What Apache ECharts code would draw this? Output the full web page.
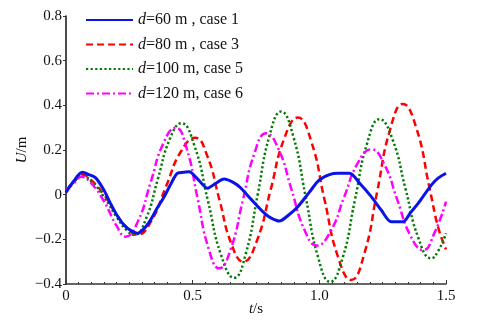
<!DOCTYPE html>
<html><head><meta charset="utf-8">
<script src="https://cdn.jsdelivr.net/npm/echarts@6/dist/echarts.min.js"></script>
<style>html,body{margin:0;padding:0;background:#fff}#c{width:481px;height:325px}</style>
</head><body><div id="c"></div>
<script>
const names = ['d=60 m , case 1','d=80 m , case 3','d=100 m, case 5','d=120 m, case 6'];
const xTicks = ['0','0.5','1.0','1.5'];
const yTicks = ['−0.4','−0.2','0','0.2','0.4','0.6','0.8'];

const tBlue = [0,0.03,0.064,0.09,0.117,0.15,0.176,0.2,0.229,0.255,0.282,0.31,0.334,0.36,0.387,0.415,0.44,0.465,0.486,0.52,0.559,0.59,0.624,0.66,0.69,0.73,0.783,0.81,0.842,0.88,0.915,0.96,1.0,1.04,1.073,1.119,1.16,1.205,1.245,1.284,1.33,1.36,1.39,1.442,1.47,1.5];
const uBlue = [0.01,0.06,0.10,0.09,0.075,0.02,-0.04,-0.09,-0.136,-0.16,-0.173,-0.15,-0.113,-0.06,-0.01,0.05,0.096,0.10,0.103,0.07,0.029,0.05,0.07,0.055,0.03,-0.02,-0.083,-0.105,-0.118,-0.09,-0.054,0.01,0.066,0.09,0.096,0.096,0.05,-0.009,-0.07,-0.121,-0.121,-0.08,-0.039,0.043,0.075,0.096];

const tRed = [0,0.03,0.065,0.1,0.15,0.2,0.25,0.28,0.3375,0.395,0.4525,0.51,0.5575,0.605,0.6525,0.70,0.754,0.8075,0.861,0.915,0.968,1.02,1.073,1.126,1.177,1.228,1.279,1.33,1.3825,1.435,1.47,1.5];
const uRed = [0.02,0.055,0.09,0.065,0.0,-0.09,-0.16,-0.18,-0.116,0.0375,0.191,0.255,0.174,-0.02,-0.219,-0.30,-0.205,0.02,0.25,0.345,0.239,-0.02,-0.276,-0.382,-0.267,0.012,0.29,0.406,0.30,0.03,-0.15,-0.245];

const tGreen = [0,0.03,0.06,0.1,0.15,0.2,0.24,0.27,0.316,0.3625,0.409,0.455,0.507,0.56,0.612,0.664,0.71,0.7565,0.803,0.849,0.8975,0.946,0.9945,1.043,1.092,1.14,1.189,1.238,1.289,1.34,1.391,1.442,1.47,1.5];
const uGreen = [0.02,0.055,0.085,0.06,-0.01,-0.1,-0.16,-0.18,-0.107,0.07,0.247,0.32,0.219,-0.026,-0.27,-0.372,-0.263,0,0.263,0.372,0.26,-0.009,-0.278,-0.39,-0.283,-0.026,0.231,0.338,0.247,0.027,-0.194,-0.285,-0.25,-0.173];

const tMag = [0,0.03,0.06,0.1,0.15,0.2,0.235,0.2845,0.334,0.3835,0.433,0.476,0.519,0.562,0.605,0.651,0.6975,0.744,0.79,0.84,0.89,0.94,0.99,1.044,1.0975,1.151,1.205,1.256,1.3075,1.359,1.41,1.455,1.5];
const uMag = [0.02,0.05,0.08,0.05,-0.03,-0.14,-0.188,-0.118,0.055,0.228,0.30,0.208,-0.015,-0.238,-0.33,-0.241,-0.0275,0.186,0.275,0.201,0.0235,-0.154,-0.228,-0.165,-0.0125,0.14,0.203,0.137,-0.0225,-0.182,-0.248,-0.17,-0.031];

const pair = (t,u) => t.map((v,i)=>[v,u[i]]);
const F = 'Liberation Serif';
const chart = echarts.init(document.getElementById('c'), null, {renderer:'canvas'});
function mk(name, t, u, color, type, smooth, w){
  return {name, type:'line', data:pair(t,u), symbol:'none', showSymbol:false, smooth:smooth,
    lineStyle:{color, width:w, type, cap:'butt'}, itemStyle:{color}, animation:false};
}
chart.setOption({
  animation:false,
  grid:{left:66, right:35, top:16, bottom:41, containLabel:false, outerBoundsMode:'none'},
  legend:{
    orient:'vertical', left:80, top:7, itemWidth:47, itemHeight:14, itemGap:8.5,
    data:names,
    itemStyle:{opacity:0},
    formatter: n => '{i|d}' + n.slice(1),
    textStyle:{fontFamily:F, fontSize:16, color:'#111',
      rich:{i:{fontFamily:F, fontStyle:'italic', fontSize:16, color:'#111'}}}
  },
  xAxis:{type:'value', min:0, max:1.5, interval:0.5,
    name:'{i|t}/s', nameLocation:'middle', nameGap:18, nameMoveOverlap:false,
    nameTextStyle:{fontFamily:F, fontSize:15, color:'#111', rich:{i:{fontFamily:F, fontStyle:'italic', fontSize:15, color:'#111'}}},
    axisLine:{show:true, onZero:false, lineStyle:{color:'#333', width:1.5}},
    axisTick:{show:true, inside:true, length:4, lineStyle:{color:'#333'}},
    minorTick:{show:true, splitNumber:10, length:2, lineStyle:{color:'#333'}},
    splitLine:{show:false},
    axisLabel:{fontFamily:F, fontSize:15, color:'#111', margin:5,
      formatter: v => xTicks[Math.round(v/0.5)]}
  },
  yAxis:{type:'value', min:-0.4, max:0.8, interval:0.2,
    name:'{i|U}/m', nameLocation:'middle', nameGap:36, nameRotate:90, nameMoveOverlap:false,
    nameTextStyle:{fontFamily:F, fontSize:15, color:'#111', rich:{i:{fontFamily:F, fontStyle:'italic', fontSize:15, color:'#111'}}},
    axisLine:{show:true, onZero:false, lineStyle:{color:'#111', width:1.5}},
    axisTick:{show:true, inside:false, length:3, lineStyle:{color:'#333'}},
    splitLine:{show:false},
    axisLabel:{fontFamily:F, fontSize:15, color:'#111', margin:4,
      formatter: v => yTicks[Math.round((v+0.4)/0.2)]}
  },
  series:[
    mk(names[1], tRed, uRed, '#ff0000', [7,4], 0.5, 2.5),
    mk(names[2], tGreen, uGreen, '#007a00', [2.2,2.4], 0.5, 2.5),
    mk(names[3], tMag, uMag, '#ff00ff', [8,3,2,3], 0.5, 2.5),
    mk(names[0], tBlue, uBlue, '#0a14e6', 'solid', 0.3, 3)
  ]
});
</script></body></html>
